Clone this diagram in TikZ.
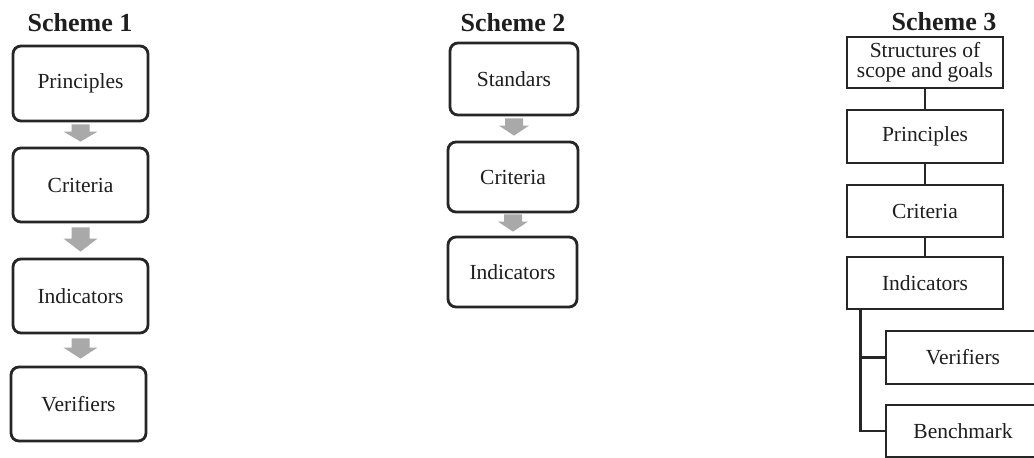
\documentclass[tikz,border=0pt]{standalone}
\usepackage{fontspec}
\setmainfont{Liberation Serif}
\usetikzlibrary{calc}
\definecolor{boxline}{HTML}{262626}
\definecolor{arrowgray}{HTML}{A9A9AA}
\definecolor{txt}{HTML}{1E1E1E}
\tikzset{
  rbox/.style={draw=boxline, line width=2.8pt, rounded corners=8pt, fill=white,
    text=txt, font=\fontsize{21.5}{21}\selectfont, inner sep=0pt},
  sbox/.style={draw=boxline, line width=2.8pt, fill=white, text=txt,
    font=\fontsize{21.5}{20}\selectfont, inner sep=0pt, align=center},
  title/.style={font=\fontsize{26}{26}\selectfont\bfseries, text=txt, anchor=base, inner sep=0pt},
  tree/.style={draw=boxline, line width=2.8pt},
}
% block arrow from bottom of #1 to top of #2; #3 top gap, #4 bottom gap, #5 head half-width, #6 head length
\newcommand\grayarrow[6]{%
  \fill[arrowgray]
    ($(#1.south)+(-9,#3)$) -- ($(#1.south)+(9,#3)$) --
    ($(#1.south |- #2.north)+(9,-#4-#6)$) -- ($(#1.south |- #2.north)+(#5,-#4-#6)$) --
    ($(#1.south |- #2.north)+(0,-#4)$) --
    ($(#1.south |- #2.north)+(-#5,-#4-#6)$) -- ($(#1.south |- #2.north)+(-9,-#4-#6)$) -- cycle;}
\begin{document}
\begin{tikzpicture}[x=1pt,y=-1pt]
\clip (0,0) rectangle (1034,458);
\fill[white] (0,0) rectangle (1034,458);

% Scheme 1
\node[title] (t1) at (80,31) {Scheme 1};
\node[rbox, minimum width=135pt, minimum height=75pt] (p1) at (80.5,83.5) {Principles};
\node[rbox, minimum width=135pt, minimum height=74pt] (c1) at (80.5,185) {Criteria};
\node[rbox, minimum width=135pt, minimum height=74pt] (i1) at (80.5,296) {Indicators};
\node[rbox, minimum width=135pt, minimum height=74pt] (v1) at (78.5,404) {Verifiers};
\grayarrow{p1}{c1}{2}{5}{17}{10}
\grayarrow{c1}{i1}{4}{6}{17}{13}
\grayarrow{i1}{v1}{4}{7}{17}{11}

% Scheme 2
\node[title] (t2) at (513,31) {Scheme 2};
\node[rbox, minimum width=128pt, minimum height=72pt] (s2) at (514,79) {Standars};
\node[rbox, minimum width=130pt, minimum height=70pt] (c2) at (513,177) {Criteria};
\node[rbox, minimum width=129pt, minimum height=70pt] (i2) at (512.5,272) {Indicators};
\grayarrow{s2}{c2}{2}{5}{15}{10}
\grayarrow{c2}{i2}{1}{4}{15}{10}

% Scheme 3
\node[title] (t3) at (944,30) {Scheme 3};
\node[sbox, minimum width=156pt, minimum height=51pt] (st) at (925,62.5) {Structures of\\scope and goals};
\node[sbox, minimum width=156pt, minimum height=53pt] (pr) at (925,136.5) {Principles};
\node[sbox, minimum width=156pt, minimum height=52pt] (cr) at (925,211) {Criteria};
\node[sbox, minimum width=156pt, minimum height=52pt] (in) at (925,283) {Indicators};
\node[sbox, minimum width=154pt, minimum height=53pt] (ve) at (963,357.5) {Verifiers};
\node[sbox, minimum width=154pt, minimum height=52pt] (be) at (963,431) {Benchmark};
\draw[tree] (st) -- (pr);
\draw[tree] (pr) -- (cr);
\draw[tree] (cr) -- (in);
\coordinate (br) at ($(in.south west)+(15,0)$);
\draw[tree] (br) |- (ve.west);
\draw[tree] (br) |- (be.west);
\end{tikzpicture}
\end{document}
